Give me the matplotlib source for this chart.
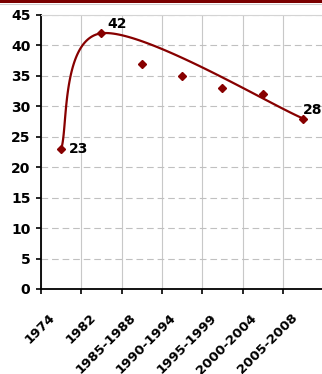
import matplotlib
matplotlib.use('Agg')
import matplotlib.pyplot as plt
import numpy as np
from matplotlib.transforms import ScaledTranslation
from matplotlib.patches import Rectangle
from matplotlib.lines import Line2D

categories = ['1974', '1982', '1985-1988', '1990-1994', '1995-1999', '2000-2004', '2005-2008']
values = [23, 42, 37, 35, 33, 32, 28]
line_idx = [0, 1, 6]          # points joined by the smoothed line (labelled ones)
yticks = list(range(0, 50, 5))

red = '#870000'


def smooth(xs, ys, n=60):
    # excel style bezier smoothing
    p = np.column_stack([xs, ys]).astype(float)
    out = []
    for i in range(len(p) - 1):
        p0 = p[i]
        p3 = p[i + 1]
        prev = p[i - 1] if i > 0 else p[i]
        nxt = p[i + 2] if i + 2 < len(p) else p[i + 1]
        c1 = p0 + (p3 - prev) / 6
        c2 = p3 - (nxt - p0) / 6
        t = np.linspace(0, 1, n)[:, None]
        seg = (1 - t)**3 * p0 + 3 * (1 - t)**2 * t * c1 + 3 * (1 - t) * t**2 * c2 + t**3 * p3
        out.append(seg)
    out = np.vstack(out)
    return out[:, 0], out[:, 1]


fig = plt.figure(figsize=(3.22, 3.74), dpi=100)
ax = fig.add_axes([41/322, 85/374, 282.3/322, 274/374])

x = np.arange(len(categories))
lx = [x[i] for i in line_idx]
ly = [values[i] for i in line_idx]
sx, sy = smooth(lx, ly)
ax.plot(sx, sy, color=red, lw=1.6, zorder=3, solid_capstyle='round')
ax.plot(x, values, ls='none', marker='D', ms=3.6, color=red, zorder=4)

for i in line_idx:
    pass
ax.annotate(str(values[0]), (x[0], values[0]), xytext=(5.8, 0), textcoords='offset points',
            ha='left', va='center', fontsize=10, fontweight='bold', family='DejaVu Sans')
ax.annotate(str(values[1]), (x[1], values[1]), xytext=(4.1, 6.8), textcoords='offset points',
            ha='left', va='center', fontsize=10, fontweight='bold', family='DejaVu Sans')
ax.annotate(str(values[6]), (x[6], values[6]), xytext=(0, 6.3), textcoords='offset points',
            ha='left', va='center', fontsize=10, fontweight='bold', family='DejaVu Sans')

ax.set_xlim(-0.5, len(categories) - 0.5)
ax.set_ylim(0, 45)
ax.set_yticks(yticks)
ax.set_yticklabels([str(v) for v in yticks], fontsize=10, fontweight='bold')

# tick marks between categories, labels at centres
ax.set_xticks(np.arange(len(categories) + 1) - 0.5)
ax.set_xticklabels([])
ax.set_xticks(x, minor=True)
ax.set_xticklabels(categories, minor=True, rotation=45, ha='right', va='center',
                   rotation_mode='anchor', fontsize=9.5, fontweight='bold')
ax.tick_params(axis='x', which='minor', length=0, pad=19.4)
ax.tick_params(axis='x', which='major', length=3.6, width=1.2, direction='out')
ax.tick_params(axis='y', length=3.6, width=1.2, direction='out', pad=4)
for lab in ax.xaxis.get_minorticklabels():
    lab.set_transform(lab.get_transform() + ScaledTranslation(-8/100, 0, fig.dpi_scale_trans))

ax.grid(axis='y', color='#c0c0c0', ls=(0, (6, 3.5)), lw=0.8)
ax.grid(axis='x', which='major', color='#c8c8c8', ls='-', lw=0.8)
ax.set_axisbelow(True)

for s in ['left', 'bottom']:
    ax.spines[s].set_linewidth(1.3)
ax.spines['right'].set_visible(False)
ax.spines['top'].set_color('#d4d4d4')
ax.spines['top'].set_linewidth(0.8)

fig.add_artist(Rectangle((0, 1 - 2.6/374), 1, 2.6/374, transform=fig.transFigure,
                         color='#7a0000', lw=0))
fig.add_artist(Line2D([0, 1], [1 - 3.6/374, 1 - 3.6/374], transform=fig.transFigure,
                      color='#d0d0d0', lw=0.8))

fig.savefig('out.png', dpi=100)
